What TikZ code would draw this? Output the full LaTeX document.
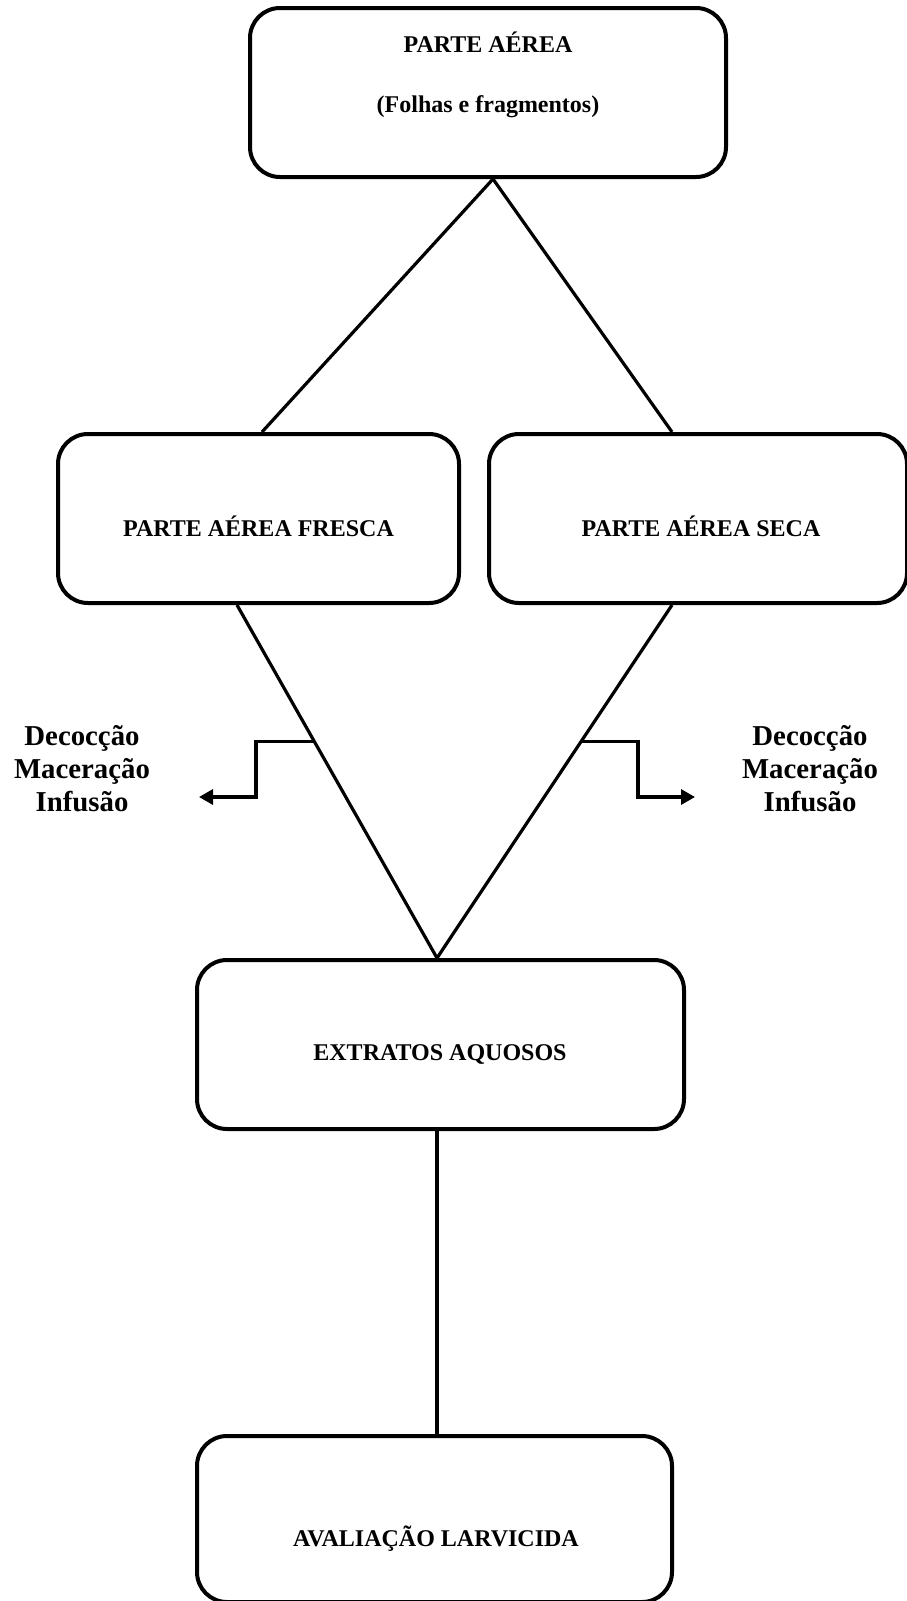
\documentclass[tikz,border=0pt]{standalone}
\usepackage{fontspec}
\setmainfont{Liberation Serif}
\usetikzlibrary{calc,arrows.meta}
\begin{document}
\begin{tikzpicture}[x=0.5pt,y=-0.5pt,
  box/.style={draw,line width=2pt,rounded corners=15pt,inner sep=0pt,minimum height=84.5pt},
  conn/.style={line width=1.6pt},
  arr/.style={line width=1.6pt,-{Triangle[length=7pt,width=7.5pt]}},
  lbl/.style={font=\bfseries\fontsize{12}{14}\selectfont,anchor=base,inner sep=0pt},
  side/.style={font=\bfseries\fontsize{14.4}{16.5}\selectfont,align=center,inner sep=0pt}]
\useasboundingbox (0,0) rectangle (906,1601);
% boxes
\node[box,minimum width=238pt] (top) at (488,92.5) {};
\node[box,minimum width=200.5pt] (fresca) at (258.5,518.5) {};
\node[box,minimum width=209pt] (seca) at (698,518.5) {};
\node[box,minimum width=243.5pt] (mid) at (440.5,1044.5) {};
\node[box,minimum width=237.5pt,minimum height=83pt] (bot) at (434.5,1519) {};
% texts
\node[lbl] (t1) at (488,52) {PARTE AÉREA};
\node[lbl] (t2) at (488,112) {(Folhas e fragmentos)};
\node[lbl] (t3) at (258.5,536) {PARTE AÉREA FRESCA};
\node[lbl] (t4) at (701,536) {PARTE AÉREA SECA};
\node[lbl] (t5) at (440,1060) {EXTRATOS AQUOSOS};
\node[lbl] (t6) at (436,1546) {AVALIAÇÃO LARVICIDA};
\node[side] (dl) at (82,769) {Decocção\\Maceração\\Infusão};
\node[side] (dr) at (810,769) {Decocção\\Maceração\\Infusão};
% connectors
\coordinate (apex) at ($(top.south)+(5,0)$);
\coordinate (fn) at ($(fresca.north)+(3.5,0)$);
\coordinate (sn) at ($(seca.north)+(-26,0)$);
\coordinate (fs) at ($(fresca.south)+(-21.5,0)$);
\coordinate (ss) at ($(seca.south)+(-26,0)$);
\coordinate (join) at ($(mid.north)+(-3.5,0)$);
\draw[conn] (apex) -- (fn);
\draw[conn] (apex) -- (sn);
\draw[conn] (fs) -- (join);
\draw[conn] (ss) -- (join);
\draw[conn] (join |- mid.south) -- (join |- bot.north);
% branches
\coordinate (bl) at ($(fs)!0.386!(join)$);
\coordinate (br) at ($(ss)!0.386!(join)$);
\coordinate (lk) at (256,797);
\coordinate (lt) at (199,797);
\coordinate (rk) at (638,797);
\coordinate (rt) at (695,797);
\draw[arr] (bl) -- (bl -| lk) -- (lk) -- (lt);
\draw[arr] (br) -- (br -| rk) -- (rk) -- (rt);
\end{tikzpicture}
\end{document}
